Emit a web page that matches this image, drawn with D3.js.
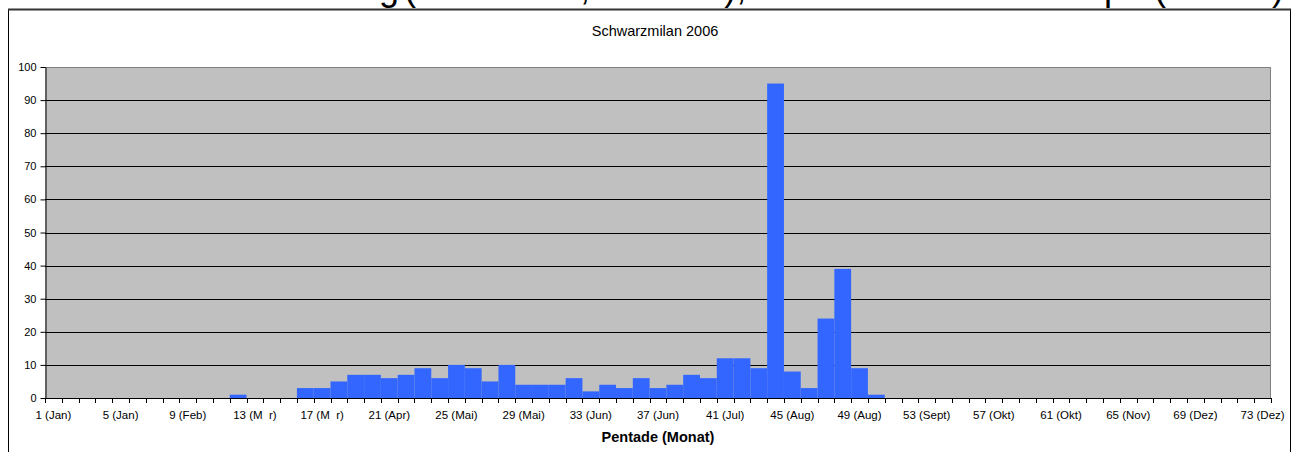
<!DOCTYPE html>
<html>
<head>
<meta charset="utf-8">
<script src="https://cdn.jsdelivr.net/npm/d3@7"></script>
<style>
  body { margin: 0; background: #fff; }
  svg { display: block; font-family: Arial, 'Liberation Sans', sans-serif; }
</style>
</head>
<body>
<svg id="chart"></svg>
<script>
// Schwarzmilan 2006, individuals per pentade
const pentades = [1, 2, 3, 4, 5, 6, 7, 8, 9, 10, 11, 12, 13, 14, 15, 16, 17, 18, 19, 20,
  21, 22, 23, 24, 25, 26, 27, 28, 29, 30, 31, 32, 33, 34, 35, 36, 37, 38, 39, 40,
  41, 42, 43, 44, 45, 46, 47, 48, 49, 50, 51, 52, 53, 54, 55, 56, 57, 58, 59, 60,
  61, 62, 63, 64, 65, 66, 67, 68, 69, 70, 71, 72, 73];

const counts = [0, 0, 0, 0, 0, 0, 0, 0, 0, 0, 0, 1, 0, 0, 0, 3, 3, 5, 7, 7,
  6, 7, 9, 6, 10, 9, 5, 10, 4, 4, 4, 6, 2, 4, 3, 6, 3, 4, 7, 6,
  12, 12, 9, 95, 8, 3, 24, 39, 9, 1, 0, 0, 0, 0, 0, 0, 0, 0, 0, 0,
  0, 0, 0, 0, 0, 0, 0, 0, 0, 0, 0, 0, 0];

const labelPentades = [1, 5, 9, 13, 17, 21, 25, 29, 33, 37, 41, 45, 49, 53, 57, 61, 65, 69, 73];
const labelTexts = ['1 (Jan)', '5 (Jan)', '9 (Feb)', '13 (M\u00a0\u00a0r)', '17 (M\u00a0\u00a0r)', '21 (Apr)',
  '25 (Mai)', '29 (Mai)', '33 (Jun)', '37 (Jun)', '41 (Jul)', '45 (Aug)', '49 (Aug)',
  '53 (Sept)', '57 (Okt)', '61 (Okt)', '65 (Nov)', '69 (Dez)', '73 (Dez)'];

const yTicks = [0, 10, 20, 30, 40, 50, 60, 70, 80, 90, 100];

const chartTitle = 'Schwarzmilan 2006';
const xTitle = 'Pentade (Monat)';
// page heading above the frame, only its descenders reach into the picture
const headingParts = ['Schwarzmilan Durchzug', '(Individuen, Summe),', 'Daten im Kreis Stempel', '(Datum)'];

const config = {
  width: 1298,
  height: 452,
  plot: {left: 45, right: 1271, top: 67, bottom: 398},
  barColor: '#3366ff',
  plotFill: '#c0c0c0'
};

const data = pentades.map((p, i) => ({pentade: p, count: counts[i]}));

const svg = d3.select('#chart')
    .attr('width', config.width)
    .attr('height', config.height);

// clipped page heading
const heading = svg.append('g')
    .attr('font-size', 36)
    .attr('fill', '#000');
heading.append('text').attr('x', 399).attr('y', 0).attr('text-anchor', 'end').text(headingParts[0]);
heading.append('text').attr('x', 404).attr('y', 0).text(headingParts[1]);
heading.append('text').attr('x', 1152).attr('y', 0).attr('text-anchor', 'end').text(headingParts[2]);
heading.append('text').attr('x', 1154).attr('y', 0).text(headingParts[3]);

// chart frame
svg.append('rect')
    .attr('x', 8.5)
    .attr('y', 9.5)
    .attr('width', 1282)
    .attr('height', 470)
    .attr('fill', '#fff')
    .attr('stroke', '#000')
    .attr('stroke-width', 1);
svg.append('line')
    .attr('x1', 8).attr('x2', 1291)
    .attr('y1', 9.5).attr('y2', 9.5)
    .attr('stroke', '#333')
    .attr('stroke-width', 2);

const p = config.plot;

const xScale = d3.scaleBand()
    .domain(pentades)
    .range([p.left, p.right])
    .padding(0);

const yScale = d3.scaleLinear()
    .domain([0, 100])
    .range([p.bottom, p.top]);

// plot area
svg.append('rect')
    .attr('x', p.left)
    .attr('y', p.top)
    .attr('width', p.right - p.left)
    .attr('height', p.bottom - p.top)
    .attr('fill', config.plotFill);

// gridlines
svg.append('g')
    .selectAll('line')
    .data(yTicks.filter(d => d > 0 && d < 100))
    .join('line')
    .attr('x1', p.left)
    .attr('x2', p.right)
    .attr('y1', d => Math.round(yScale(d)) + 0.5)
    .attr('y2', d => Math.round(yScale(d)) + 0.5)
    .attr('stroke', '#000')
    .attr('stroke-width', 1);

// plot border, top and right
svg.append('path')
    .attr('d', `M${p.left},${p.top + 0.5}H${p.right - 0.5}V${p.bottom}`)
    .attr('fill', 'none')
    .attr('stroke', '#808080')
    .attr('stroke-width', 1);

// bars
svg.append('g')
    .selectAll('.bar')
    .data(data.filter(d => d.count > 0))
    .join('rect')
    .attr('class', 'bar')
    .attr('x', d => xScale(d.pentade))
    .attr('width', xScale.bandwidth())
    .attr('y', d => yScale(d.count))
    .attr('height', d => yScale(0) - yScale(d.count))
    .attr('fill', config.barColor);

// y axis
const yAxis = d3.axisLeft(yScale)
    .tickValues(yTicks)
    .tickSize(5)
    .tickSizeOuter(0)
    .tickPadding(4);

const yAxisG = svg.append('g')
    .attr('transform', `translate(${p.left + 0.5},0)`)
    .call(yAxis);
yAxisG.selectAll('text')
    .attr('font-size', 11)
    .attr('font-family', 'Arial, Liberation Sans, sans-serif')
    .attr('fill', '#000');
yAxisG.selectAll('line, path').attr('stroke', '#000');

// x axis: ticks on category boundaries, labels centred on categories
const xAxisG = svg.append('g');
xAxisG.append('line')
    .attr('x1', p.left)
    .attr('x2', p.right)
    .attr('y1', p.bottom + 0.5)
    .attr('y2', p.bottom + 0.5)
    .attr('stroke', '#000');

const boundaries = pentades.map(d => xScale(d)).concat([xScale.range()[1]]);
xAxisG.selectAll('.xtick')
    .data(boundaries)
    .join('line')
    .attr('class', 'xtick')
    .attr('x1', d => Math.round(d) + 0.5)
    .attr('x2', d => Math.round(d) + 0.5)
    .attr('y1', p.bottom)
    .attr('y2', p.bottom + 5)
    .attr('stroke', '#000');

xAxisG.selectAll('.xlabel')
    .data(labelPentades)
    .join('text')
    .attr('class', 'xlabel')
    .attr('x', d => xScale(d) + xScale.bandwidth() / 2)
    .attr('y', 419)
    .attr('text-anchor', 'middle')
    .attr('font-size', 11.5)
    .text((d, i) => labelTexts[i]);

// titles
svg.append('text')
    .attr('x', (p.left + p.right) / 2 - 3)
    .attr('y', 36)
    .attr('text-anchor', 'middle')
    .attr('font-size', 14.5)
    .text(chartTitle);

svg.append('text')
    .attr('x', (p.left + p.right) / 2)
    .attr('y', 442)
    .attr('text-anchor', 'middle')
    .attr('font-size', 14.5)
    .attr('font-weight', 'bold')
    .text(xTitle);
</script>
</body>
</html>
